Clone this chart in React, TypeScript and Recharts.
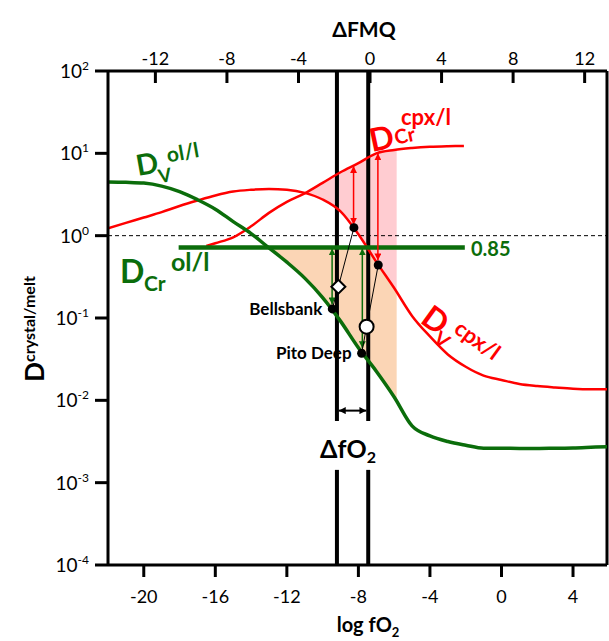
import React from "react";
import { ComposedChart, Line, Area, Scatter, XAxis, YAxis, ReferenceLine } from "recharts";

const GREEN = "#0b6d0b";
const RED = "#ff0000";
const PINK = "#ffccd1";
const PEACH = "#fbd5b5";
const FONT = "Lato";

// log fO2 grid for the two full-width curves
const fo2 = [-22, -21, -20, -19, -18, -17, -16, -15, -14, -13, -12, -11, -10, -9, -8, -7, -6, -5, -4, -3, -2, -1, 0, 1, 2, 3, 4, 5, 5.9];
const dVol = [4.5, 4.45, 4.35, 4.0, 3.43, 2.74, 2.1, 1.48, 1.06, 0.71, 0.476, 0.305, 0.177, 0.0916, 0.0435, 0.0226, 0.011, 0.0049, 0.0037, 0.00316, 0.00285, 0.00262, 0.00262, 0.0026, 0.0026, 0.00262, 0.00264, 0.00269, 0.00274];
const dVcpx = [1.23, 1.43, 1.66, 1.93, 2.29, 2.67, 3.08, 3.44, 3.61, 3.69, 3.61, 3.31, 2.75, 1.97, 1.04, 0.481, 0.231, 0.106, 0.0597, 0.0361, 0.0256, 0.02, 0.0177, 0.0158, 0.0149, 0.0143, 0.0138, 0.0136, 0.0136];

const crCpxFo2 = [-16.5, -16, -15, -14, -13, -12, -11, -10, -9, -8, -7, -6, -5, -4, -3, -2.1];
const dCrCpx = [0.75, 0.81, 0.955, 1.3, 1.89, 2.57, 3.27, 4.38, 5.89, 7.6, 10.0, 11.0, 11.6, 12.0, 12.2, 12.3];

const crOlFo2 = [-18.05, -2.05];
const dCrOl = [0.72, 0.72];

// shaded bands
const pinkFo2 = [-10.9, -10, -9, -8, -7, -6, -5.86];
const pinkLow = [3.3, 2.75, 1.97, 1.04, 0.481, 0.231, 0.21];
const pinkHigh = [3.3, 4.38, 5.89, 7.6, 10.0, 11.0, 11.1];
const peachFo2 = [-13.05, -12, -11, -10, -9, -8, -7.5, -7, -6.5, -6, -5.86];
const peachLow = [0.72, 0.476, 0.305, 0.177, 0.0916, 0.0435, 0.031, 0.0226, 0.0159, 0.011, 0.0102];
const peachHigh = [0.72, 0.72, 0.72, 0.72, 0.72, 0.72, 0.72, 0.481, 0.333, 0.231, 0.21];

// points
const cpxDotFo2 = [-8.25, -6.89];
const cpxDotD = [1.25, 0.44];
const sampleNames = ["Bellsbank", "Pito Deep"];
const sampleFo2 = [-9.46, -7.82];
const sampleD = [0.129, 0.0373];
const diamondFo2 = -9.12;
const diamondD = 0.24;
const circleFo2 = -7.54;
const circleD = 0.0785;

// arrows
const redArrowFo2 = [-8.27, -6.91];
const redArrowTop = [7.0, 10.0];
const redArrowBottom = [1.36, 0.5];
const greenArrowFo2 = [-9.47, -7.78];
const greenArrowTop = [0.7, 0.7];
const greenArrowBottom = [0.146, 0.043];
const boundFo2 = [-9.2, -7.45];
const boundGap = [0.0056, 0.00143];
const dfo2ArrowFo2 = [-9.1, -7.55];
const dfo2ArrowD = 0.0075;

const xTicks = [-20, -16, -12, -8, -4, 0, 4];
const fmqTicks = [-12, -8, -4, 0, 4, 8, 12];
const yTicks = [1e-4, 1e-3, 1e-2, 1e-1, 1, 10, 100];
const FMQ_OFFSET = 7.35;
const X_DOMAIN = [-22, 5.9];

const pts = (xs: number[], ys: number[]) => xs.map((x, i) => ({ x, y: ys[i] }));
const band = (xs: number[], lo: number[], hi: number[]) => xs.map((x, i) => ({ x, y: [lo[i], hi[i]] }));

const BottomTick = (p: any) => (
  <text x={p.x} y={p.y + 26} textAnchor="middle" fontSize={18} fill="#000" fontFamily={FONT}>
    {p.payload.value}
  </text>
);

const TopTick = (p: any) => (
  <g>
    <line x1={p.x} x2={p.x} y1={p.y} y2={p.y + 12} stroke="#000" strokeWidth={3} />
    <text x={p.x} y={p.y - 6} textAnchor="middle" fontSize={18} fill="#000" fontFamily={FONT}>
      {p.payload.value}
    </text>
  </g>
);

const YTick = (p: any) => {
  const e = Math.round(Math.log10(p.payload.value));
  return (
    <text x={p.x} y={p.y + 7} textAnchor="end" fontSize={19} fill="#000" fontFamily={FONT}>
      <tspan>10</tspan>
      <tspan dy={-8} fontSize={12}>{e}</tspan>
    </text>
  );
};

const SampleDot = (p: any) => (
  <g>
    <circle cx={p.cx} cy={p.cy} r={4.5} fill="#000" />
    <text x={p.cx - 10} y={p.cy + 6} textAnchor="end" fontSize={17} fontWeight={700} fill="#000" fontFamily={FONT}>
      {p.payload.name}
    </text>
  </g>
);
const BlackDot = (p: any) => <circle cx={p.cx} cy={p.cy} r={4.5} fill="#000" />;
const Diamond = (p: any) => (
  <polygon
    points={`${p.cx},${p.cy - 7} ${p.cx + 7},${p.cy} ${p.cx},${p.cy + 7} ${p.cx - 7},${p.cy}`}
    fill="#fff"
    stroke="#000"
    strokeWidth={2}
  />
);
const OpenCircle = (p: any) => <circle cx={p.cx} cy={p.cy} r={7} fill="#fff" stroke="#000" strokeWidth={2} />;

export default function App() {
  const samples = sampleFo2.map((x, i) => ({ x, y: sampleD[i], name: sampleNames[i] }));
  const arrows = (xs: number[], top: number[], bot: number[]) =>
    xs.map((x, i) => [
      { x, y: top[i] },
      { x, y: bot[i] },
    ]);

  return (
    <div style={{ position: "fixed", left: 0, top: 0, width: 609, height: 641, background: "#fff", fontFamily: FONT }}>
      <svg width={0} height={0} style={{ position: "absolute" }}>
        <defs>
          {[
            ["ahRed", RED],
            ["ahGreen", GREEN],
            ["ahBlack", "#000"],
          ].map(([id, c]) => (
            <marker
              key={id}
              id={id}
              viewBox="0 0 10 10"
              refX={10}
              refY={5}
              markerWidth={7}
              markerHeight={7}
              markerUnits="userSpaceOnUse"
              orient="auto-start-reverse"
            >
              <path d="M0,0 L10,5 L0,10 z" fill={c} />
            </marker>
          ))}
        </defs>
      </svg>
      <ComposedChart width={609} height={641} margin={{ top: 41, right: 2, bottom: 36, left: 48 }}>
        <XAxis
          dataKey="x"
          type="number"
          domain={X_DOMAIN}
          ticks={xTicks}
          allowDataOverflow
          interval={0}
          height={40}
          tickSize={12}
          tickMargin={0}
          tickLine={{ stroke: "#000", strokeWidth: 3 }}
          axisLine={{ stroke: "#000", strokeWidth: 3 }}
          tick={BottomTick}
        />
        <XAxis
          xAxisId="top"
          dataKey="x"
          orientation="top"
          type="number"
          domain={[X_DOMAIN[0] + FMQ_OFFSET, X_DOMAIN[1] + FMQ_OFFSET]}
          ticks={fmqTicks}
          allowDataOverflow
          interval={0}
          height={30}
          tickSize={0}
          tickMargin={0}
          tickLine={false}
          axisLine={{ stroke: "#000", strokeWidth: 3 }}
          tick={TopTick}
        />
        <YAxis
          dataKey="y"
          type="number"
          scale="log"
          domain={[1e-4, 100]}
          ticks={yTicks}
          allowDataOverflow
          interval={0}
          width={60}
          tickSize={13}
          tickMargin={6}
          tickLine={{ stroke: "#000", strokeWidth: 3 }}
          axisLine={{ stroke: "#000", strokeWidth: 3 }}
          tick={YTick}
        />

        {/* invisible series so the ΔFMQ axis gets its ticks */}
        <Line
          xAxisId="top"
          data={fmqTicks.map((x) => ({ x, y: 1 }))}
          dataKey="y"
          stroke="none"
          dot={false}
          activeDot={false}
          isAnimationActive={false}
        />

        <Area data={band(pinkFo2, pinkLow, pinkHigh)} dataKey="y" type="monotone" fill={PINK} fillOpacity={1} stroke="none" isAnimationActive={false} />
        <Area data={band(peachFo2, peachLow, peachHigh)} dataKey="y" type="monotone" fill={PEACH} fillOpacity={1} stroke="none" isAnimationActive={false} />

        <ReferenceLine y={1} stroke="#000" strokeWidth={1} strokeDasharray="4 3" />
        <ReferenceLine x={X_DOMAIN[1]} stroke="#000" strokeWidth={3} />

        {boundFo2.map((x) => (
          <Line key={`b1${x}`} data={pts([x, x], [100, boundGap[0]])} dataKey="y" stroke="#000" strokeWidth={4} dot={false} activeDot={false} isAnimationActive={false} />
        ))}
        {boundFo2.map((x) => (
          <Line key={`b2${x}`} data={pts([x, x], [boundGap[1], 1e-4])} dataKey="y" stroke="#000" strokeWidth={4} dot={false} activeDot={false} isAnimationActive={false} />
        ))}
        <Line
          data={pts(dfo2ArrowFo2, [dfo2ArrowD, dfo2ArrowD])}
          dataKey="y"
          stroke="#000"
          strokeWidth={2}
          dot={false}
          activeDot={false}
          markerStart="url(#ahBlack)"
          markerEnd="url(#ahBlack)"
          isAnimationActive={false}
        />

        <Line data={pts(fo2, dVcpx)} dataKey="y" type="monotone" stroke={RED} strokeWidth={2.5} dot={false} activeDot={false} isAnimationActive={false} />
        <Line data={pts(crCpxFo2, dCrCpx)} dataKey="y" type="monotone" stroke={RED} strokeWidth={2.5} dot={false} activeDot={false} isAnimationActive={false} />
        <Line data={pts(fo2, dVol)} dataKey="y" type="monotone" stroke={GREEN} strokeWidth={3.5} dot={false} activeDot={false} isAnimationActive={false} />
        <Line data={pts(crOlFo2, dCrOl)} dataKey="y" stroke={GREEN} strokeWidth={4.5} dot={false} activeDot={false} isAnimationActive={false} />

        {arrows(redArrowFo2, redArrowTop, redArrowBottom).map((d, i) => (
          <Line key={`ra${i}`} data={d} dataKey="y" stroke={RED} strokeWidth={1.5} dot={false} activeDot={false} markerStart="url(#ahRed)" markerEnd="url(#ahRed)" isAnimationActive={false} />
        ))}
        {arrows(greenArrowFo2, greenArrowTop, greenArrowBottom).map((d, i) => (
          <Line key={`ga${i}`} data={d} dataKey="y" stroke={GREEN} strokeWidth={1.5} dot={false} activeDot={false} markerStart="url(#ahGreen)" markerEnd="url(#ahGreen)" isAnimationActive={false} />
        ))}

        <Line
          data={pts([cpxDotFo2[0], diamondFo2, sampleFo2[0]], [cpxDotD[0], diamondD, sampleD[0]])}
          dataKey="y"
          stroke="#000"
          strokeWidth={1}
          dot={false}
          activeDot={false}
          isAnimationActive={false}
        />
        <Line
          data={pts([cpxDotFo2[1], circleFo2, sampleFo2[1]], [cpxDotD[1], circleD, sampleD[1]])}
          dataKey="y"
          stroke="#000"
          strokeWidth={1}
          dot={false}
          activeDot={false}
          isAnimationActive={false}
        />

        <Scatter data={pts(cpxDotFo2, cpxDotD)} dataKey="y" shape={BlackDot} isAnimationActive={false} />
        <Scatter data={samples} dataKey="y" shape={SampleDot} isAnimationActive={false} />
        <Scatter data={[{ x: diamondFo2, y: diamondD }]} dataKey="y" shape={Diamond} isAnimationActive={false} />
        <Scatter data={[{ x: circleFo2, y: circleD }]} dataKey="y" shape={OpenCircle} isAnimationActive={false} />
      </ComposedChart>

      <svg width={609} height={641} style={{ position: "absolute", left: 0, top: 0, pointerEvents: "none" }} fontFamily={FONT} fontWeight={700}>
        <text x={364} y={37} textAnchor="middle" fontSize={21} fill="#000">ΔFMQ</text>
        <text x={368} y={632} textAnchor="middle" fontSize={20} fill="#000">
          log fO<tspan dy={5} fontSize={13}>2</tspan>
        </text>
        <text transform="translate(44,329) rotate(-90)" textAnchor="middle" fill="#000">
          <tspan fontSize={26}>D</tspan>
          <tspan fontSize={16} dy={-9}>crystal/melt</tspan>
        </text>
        <text x={348} y={458} textAnchor="middle" fontSize={25} fill="#000">
          ΔfO<tspan dy={5} fontSize={16}>2</tspan>
        </text>

        <text x={471} y={256} fontSize={20} fill={GREEN}>0.85</text>

        <g transform="rotate(-10 138 176)" fill={GREEN}>
          <text x={138} y={176} fontSize={29}>D</text>
          <text x={158} y={187} fontSize={19}>V</text>
          <text x={170} y={168} fontSize={21}>ol/l</text>
        </g>
        <g fill={GREEN}>
          <text x={120} y={283} fontSize={32}>D</text>
          <text x={144} y={291} fontSize={21}>Cr</text>
          <text x={171} y={271} fontSize={25}>ol/l</text>
        </g>
        <g fill={RED}>
          <g transform="rotate(-12 372 152)">
            <text x={372} y={152} fontSize={32}>D</text>
            <text x={397} y={150} fontSize={20}>Cr</text>
          </g>
          <text x={401} y={125} fontSize={22}>cpx/l</text>
        </g>
        <g transform="translate(419,322) rotate(36)" fill={RED}>
          <text x={0} y={0} fontSize={32}>D</text>
          <text x={22} y={8} fontSize={20}>V</text>
          <text x={33} y={-12} fontSize={22}>cpx/l</text>
        </g>
      </svg>
    </div>
  );
}
